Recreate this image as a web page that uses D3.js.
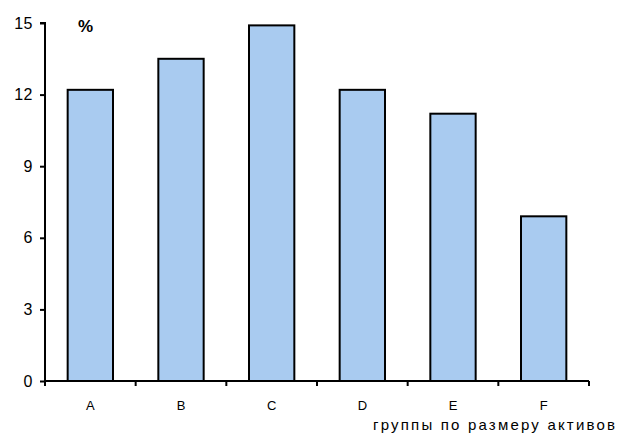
<!DOCTYPE html>
<html>
<head>
<meta charset="utf-8">
<script src="https://cdn.jsdelivr.net/npm/d3@7"></script>
<style>
  body { margin: 0; background: #fff; }
  text { font-family: "Liberation Sans", Arial, sans-serif; }
</style>
</head>
<body>
<div id="chart"></div>
<script>
const categories = ["A", "B", "C", "D", "E", "F"];
const values = [12.2, 13.5, 14.9, 12.2, 11.2, 6.9];
const yTicks = [0, 3, 6, 9, 12, 15];
const yUnit = "%";
const xTitle = "группы по размеру активов";

const width = 617;
const height = 435;
const margin = { top: 23, left: 45, bottom: 54, right: 28 };
const iwidth = width - margin.left - margin.right;
const iheight = height - margin.top - margin.bottom;

const svg = d3.select("#chart").append("svg")
  .attr("width", width).attr("height", height);

const g = svg.append("g")
  .attr("transform", `translate(${margin.left},${margin.top})`);

const y = d3.scaleLinear().domain([0, 15]).range([iheight, 0]);
const x = d3.scaleBand().domain(categories).range([0, iwidth])
  .paddingInner(0.5).paddingOuter(0.25);

g.selectAll("rect.bar").data(values).enter().append("rect")
  .attr("class", "bar")
  .attr("x", (d, i) => x(categories[i]))
  .attr("y", d => y(d))
  .attr("width", x.bandwidth())
  .attr("height", d => iheight - y(d))
  .style("fill", "#a9cbf0")
  .style("stroke", "#000")
  .style("stroke-width", 2);

// y axis
const yAxis = g.append("g")
  .call(d3.axisLeft(y).tickValues(yTicks).tickSize(5).tickPadding(7));
yAxis.select(".domain").attr("stroke-width", 2).attr("d", `M0,${iheight}V0H-5`);
yAxis.selectAll(".tick line").attr("stroke-width", 2);
yAxis.selectAll("text").style("font-size", "16px").style("letter-spacing", "0.5px").attr("fill", "#000");

// x axis with ticks at band boundaries
const xAxis = g.append("g").attr("transform", `translate(0,${iheight})`);
xAxis.append("line").attr("x1", 0).attr("x2", iwidth)
  .attr("stroke", "#000").attr("stroke-width", 2);
const step = x.step();
const bounds = d3.range(categories.length + 1).map(i => x(categories[0]) - x.step() * x.paddingOuter() + i * step);
xAxis.selectAll("line.tk").data(bounds).enter().append("line")
  .attr("class", "tk")
  .attr("x1", d => d).attr("x2", d => d)
  .attr("y1", 0).attr("y2", 5)
  .attr("stroke", "#000").attr("stroke-width", 2);
xAxis.selectAll("text.cat").data(categories).enter().append("text")
  .attr("class", "cat")
  .attr("x", d => x(d) + x.bandwidth() / 2)
  .attr("y", 29)
  .attr("text-anchor", "middle")
  .style("font-size", "13px")
  .text(d => d);

svg.append("text")
  .attr("x", 373).attr("y", 430)
  .attr("textLength", 242)
  .attr("lengthAdjust", "spacing")
  .style("font-size", "15px")
  .text(xTitle);

svg.append("text")
  .attr("x", 78).attr("y", 32)
  .style("font-size", "17px")
  .style("font-weight", "bold")
  .text(yUnit);
</script>
</body>
</html>
